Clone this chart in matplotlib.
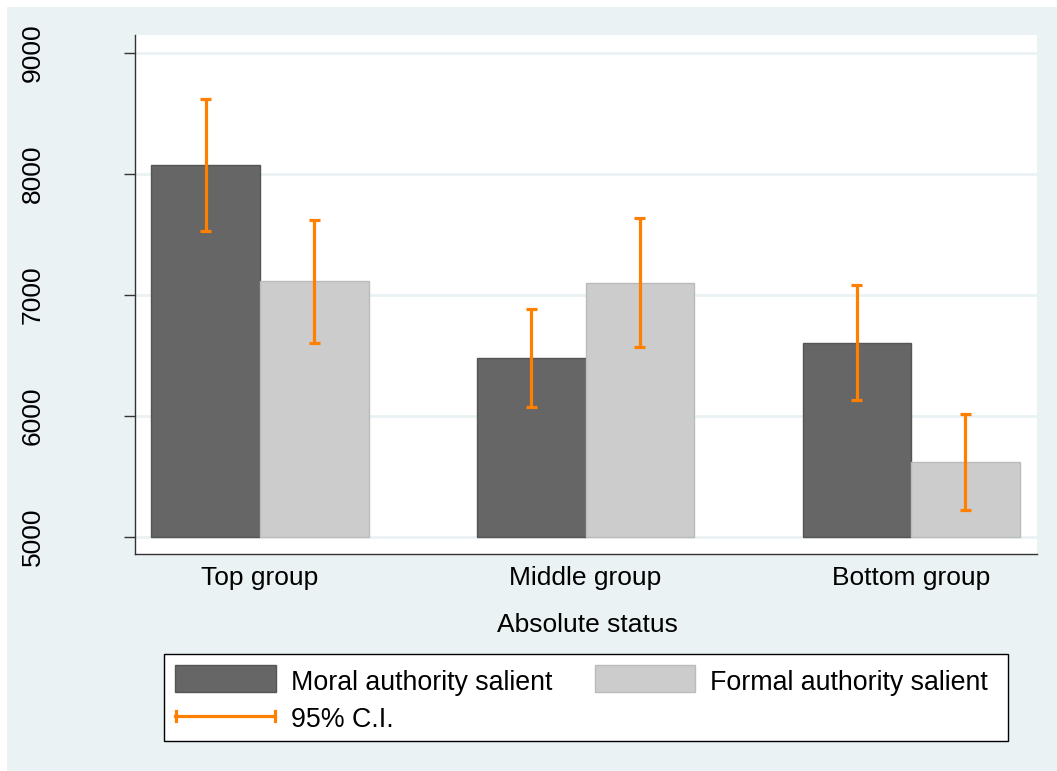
import matplotlib
matplotlib.use("Agg")
import matplotlib.pyplot as plt
import numpy as np
from matplotlib.patches import Rectangle
from matplotlib.lines import Line2D

plt.rcParams['font.family'] = ['Liberation Sans', 'DejaVu Sans']

# ---- data ----
categories = ["Top group", "Middle group", "Bottom group"]
series_names = ["Moral authority salient", "Formal authority salient"]
moral_mean = [8069, 6480, 6604]
moral_lo = [7524, 6073, 6129]
moral_hi = [8614, 6882, 7078]
formal_mean = [7111, 7099, 5619]
formal_lo = [6602, 6571, 5220]
formal_hi = [7620, 7631, 6015]
yticks = [5000, 6000, 7000, 8000, 9000]
xlabel = "Absolute status"
ci_label = "95% C.I."

W, H = 1057, 771
fig = plt.figure(figsize=(W / 100, H / 100), dpi=100)
fig.patch.set_facecolor("white")

BG = "#EAF2F3"
DARK = "#666666"
LIGHT = "#CCCCCC"
ORANGE = "#FF7F00"
FS = 19
LFS = 19.3

def fx(px):
    return px / W

def fy(py):
    return 1 - py / H

# outer light background
fig.patches.append(Rectangle((fx(7), 0), 1 - fx(7), fy(7), transform=fig.transFigure,
                             facecolor=BG, edgecolor="none", zorder=-10))

ax = fig.add_axes([fx(135), fy(554), fx(1037) - fx(135), fy(35) - fy(554)])
ax.set_facecolor("white")

x = np.arange(len(categories))
w = 1 / 3
base = 5000
moral_h = np.array(moral_mean) - base
formal_h = np.array(formal_mean) - base
ax.bar(x - w / 2, moral_h, w, bottom=base, color=DARK, edgecolor="#555555", linewidth=1, zorder=2)
ax.bar(x + w / 2, formal_h, w, bottom=base, color=LIGHT, edgecolor="#BBBBBB", linewidth=1, zorder=2)

ax.vlines(x - w / 2, moral_lo, moral_hi, color=ORANGE, linewidth=2.3, zorder=3)
ax.vlines(x + w / 2, formal_lo, formal_hi, color=ORANGE, linewidth=2.3, zorder=3)
cap = 0.0175
for xs, lo, hi in [(x - w / 2, moral_lo, moral_hi), (x + w / 2, formal_lo, formal_hi)]:
    ax.hlines(lo, xs - cap, xs + cap, color=ORANGE, linewidth=2.3, zorder=3)
    ax.hlines(hi, xs - cap, xs + cap, color=ORANGE, linewidth=2.3, zorder=3)

ax.set_xlim(-0.384, 2.387)
ax.set_ylim(4860, 9145)
ax.set_yticks(yticks)
ax.set_yticklabels([str(t) for t in yticks], rotation=90, va="center", fontsize=FS)
ax.set_xticks(x)
ax.set_xticklabels(categories, fontsize=FS)
ax.tick_params(axis="x", length=0, pad=8.5)
ax.tick_params(axis="y", length=8, width=1, color="#333333", pad=57)
ax.grid(axis="y", color=BG, linewidth=2, zorder=0)
ax.set_axisbelow(True)
for s in ["top", "right"]:
    ax.spines[s].set_visible(False)
for s in ["left", "bottom"]:
    ax.spines[s].set_color("#333333")
    ax.spines[s].set_linewidth(1)

fig.text(fx(587), fy(632), xlabel, ha="center", va="baseline", fontsize=FS)

# ---- legend (manual layout) ----
fig.patches.append(Rectangle((fx(163.5), fy(740.5)), fx(1007.5) - fx(163.5), fy(653.5) - fy(740.5),
                             transform=fig.transFigure, facecolor="white", edgecolor="black",
                             linewidth=1, zorder=5))
fig.patches.append(Rectangle((fx(174.5), fy(691.5)), fx(101), fy(664.5) - fy(691.5),
                             transform=fig.transFigure, facecolor=DARK, edgecolor="#555555",
                             linewidth=1, zorder=6))
fig.patches.append(Rectangle((fx(594.5), fy(691.5)), fx(100), fy(664.5) - fy(691.5),
                             transform=fig.transFigure, facecolor=LIGHT, edgecolor="#BBBBBB",
                             linewidth=1, zorder=6))
fig.lines.append(Line2D([fx(175), fx(275)], [fy(715.5), fy(715.5)], transform=fig.transFigure,
                        color=ORANGE, linewidth=2.3, zorder=6))
for px in (175.5, 274.5):
    fig.lines.append(Line2D([fx(px), fx(px)], [fy(710.5), fy(721)], transform=fig.transFigure,
                            color=ORANGE, linewidth=2.3, zorder=6))
fig.text(fx(291), fy(690), series_names[0], ha="left", va="baseline", fontsize=LFS, zorder=7)
fig.text(fx(710), fy(690), series_names[1], ha="left", va="baseline", fontsize=LFS, zorder=7)
fig.text(fx(291), fy(727), ci_label, ha="left", va="baseline", fontsize=LFS, zorder=7)

fig.savefig("out.png", dpi=100, facecolor=fig.get_facecolor())
